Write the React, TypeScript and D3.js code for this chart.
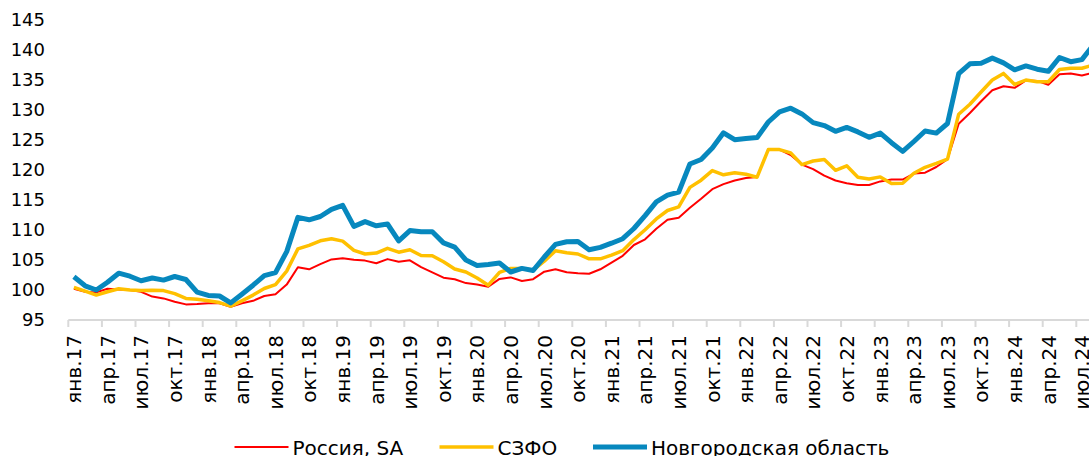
import * as d3 from 'd3';
import { useRef, useEffect } from 'react';

// Monthly index, янв.17 .. авг.24
const russia = [
  100.2, 99.7, 99.6, 100.2, 100.1, 100.0, 99.7, 98.9, 98.6, 98.05, 97.6, 97.65,
  97.8, 97.8, 97.2, 97.8, 98.2, 99.0, 99.3, 100.9, 103.8, 103.45, 104.3, 105.1,
  105.3, 105.05, 104.9, 104.45, 105.15, 104.7, 104.95, 103.8, 102.95, 102.05, 101.8, 101.15,
  100.9, 100.55, 101.85, 102.1, 101.5, 101.8, 103.05, 103.45, 102.95, 102.8, 102.7, 103.45,
  104.55, 105.7, 107.5, 108.45, 110.2, 111.7, 112.05, 113.7, 115.2, 116.8, 117.65, 118.25,
  118.65, 118.85, 123.4, 123.4, 122.5, 120.9, 120.15, 119.05, 118.25, 117.8, 117.5, 117.5,
  118.1, 118.4, 118.4, 119.4, 119.55, 120.5, 121.8, 127.7, 129.5, 131.45, 133.3, 133.95,
  133.7, 134.95, 134.85, 134.2, 135.95, 136.1, 135.75, 136.2,
];

const szfo = [
  100.45, 99.8, 99.15, 99.7, 100.2, 100.0, 99.9, 99.95, 99.9, 99.4, 98.6, 98.45,
  98.2, 97.9, 97.3, 98.2, 99.15, 100.25, 100.9, 103.15, 106.85, 107.45, 108.2, 108.55,
  108.15, 106.6, 106.0, 106.15, 106.95, 106.3, 106.7, 105.75, 105.7, 104.7, 103.5, 103.0,
  102.0, 100.8, 102.95, 103.6, 103.6, 103.3, 104.8, 106.55, 106.2, 106.0, 105.2, 105.2,
  105.8, 106.55, 108.4, 110.05, 111.85, 113.25, 113.85, 117.1, 118.3, 119.9, 119.2, 119.55,
  119.3, 118.8, 123.4, 123.4, 122.85, 120.9, 121.5, 121.75, 119.95, 120.7, 118.8, 118.5,
  118.85, 117.75, 117.8, 119.45, 120.45, 121.1, 121.8, 129.3, 130.95, 133.0, 135.0, 136.1,
  134.25, 135.0, 134.7, 134.7, 136.75, 136.95, 136.95, 137.5,
];

const novgorod = [
  102.2, 100.7, 100.0, 101.3, 102.8, 102.3, 101.55, 102.0, 101.65, 102.25, 101.75, 99.65,
  99.1, 99.0, 97.85, 99.3, 100.8, 102.4, 102.9, 106.4, 112.1, 111.7, 112.25, 113.45,
  114.1, 110.6, 111.4, 110.7, 111.0, 108.2, 109.9, 109.7, 109.7, 107.85, 107.15, 105.0,
  104.1, 104.25, 104.5, 103.0, 103.6, 103.25, 105.5, 107.6, 108.05, 108.1, 106.7, 107.1,
  107.8, 108.55, 110.25, 112.4, 114.7, 115.8, 116.3, 121.0, 121.75, 123.65, 126.2, 125.05,
  125.25, 125.4, 128.0, 129.7, 130.3, 129.35, 127.9, 127.4, 126.45, 127.1, 126.35, 125.45,
  126.15, 124.55, 123.1, 124.75, 126.5, 126.15, 127.75, 136.05, 137.7, 137.8, 138.65, 137.85,
  136.7, 137.35, 136.8, 136.45, 138.75, 138.05, 138.4, 140.8,
];

// one label every third month
const xTickLabels = [
  'янв.17', 'апр.17', 'июл.17', 'окт.17', 'янв.18', 'апр.18', 'июл.18', 'окт.18',
  'янв.19', 'апр.19', 'июл.19', 'окт.19', 'янв.20', 'апр.20', 'июл.20', 'окт.20',
  'янв.21', 'апр.21', 'июл.21', 'окт.21', 'янв.22', 'апр.22', 'июл.22', 'окт.22',
  'янв.23', 'апр.23', 'июл.23', 'окт.23', 'янв.24', 'апр.24', 'июл.24',
];

const yTicks = [95, 100, 105, 110, 115, 120, 125, 130, 135, 140, 145];

const seriesNames = ['Россия, SA', 'СЗФО', 'Новгородская область'];
const seriesColors = ['#ff0000', '#ffc000', '#0788be'];
const seriesWidths = [2, 3.5, 5];

export default function App() {
  const svgRef = useRef<SVGSVGElement>(null);
  const width = 1089;
  const height = 456;

  useEffect(() => {
    const svg = d3.select(svgRef.current);
    svg.selectAll('*').remove();

    const font = 'DejaVu Sans, Verdana, sans-serif';
    const n = russia.length;
    const left = 68.3;
    const step = 11.2;

    const x = d3.scaleBand<number>()
      .domain(d3.range(n))
      .range([left, left + n * step])
      .padding(0);

    const y = d3.scaleLinear().domain([95, 145]).range([320, 20]);

    // y labels
    svg.append('g')
      .selectAll('text')
      .data(yTicks)
      .enter()
      .append('text')
      .attr('x', 45)
      .attr('y', d => y(d))
      .attr('dy', '0.36em')
      .attr('text-anchor', 'end')
      .attr('font-family', font)
      .attr('font-size', 18)
      .attr('fill', '#000')
      .text(d => d);

    // x axis line and ticks
    const axis = svg.append('g');
    axis.append('line')
      .attr('x1', left).attr('x2', width)
      .attr('y1', 320).attr('y2', 320)
      .attr('stroke', '#d9d9d9')
      .attr('stroke-width', 2);

    const tickIdx = xTickLabels.map((_, k) => k * 3);
    axis.selectAll('line.tick')
      .data(tickIdx)
      .enter()
      .append('line')
      .attr('class', 'tick')
      .attr('x1', d => x(d)!).attr('x2', d => x(d)!)
      .attr('y1', 320).attr('y2', 327)
      .attr('stroke', '#d9d9d9')
      .attr('stroke-width', 2);

    axis.selectAll('text')
      .data(xTickLabels)
      .enter()
      .append('text')
      .attr('transform', (_, k) => `translate(${x(k * 3)! + x.bandwidth() / 2},335) rotate(-90)`)
      .attr('dy', '0.36em')
      .attr('text-anchor', 'end')
      .attr('font-family', font)
      .attr('font-size', 20)
      .attr('fill', '#000')
      .text(d => d);

    // lines
    const line = d3.line<number>()
      .x((_, i) => x(i)! + x.bandwidth() / 2)
      .y(d => y(d));

    [russia, szfo, novgorod].forEach((s, k) => {
      svg.append('path')
        .datum(s)
        .attr('d', line)
        .attr('fill', 'none')
        .attr('stroke', seriesColors[k])
        .attr('stroke-width', seriesWidths[k])
        .attr('stroke-linejoin', 'round');
    });

    // legend
    const legendX = [234.5, 439.5, 593];
    const legend = svg.append('g');
    seriesNames.forEach((name, k) => {
      legend.append('line')
        .attr('x1', legendX[k]).attr('x2', legendX[k] + 54)
        .attr('y1', 447).attr('y2', 447)
        .attr('stroke', seriesColors[k])
        .attr('stroke-width', seriesWidths[k]);
      legend.append('text')
        .attr('x', legendX[k] + 58)
        .attr('y', 455)
        .attr('font-family', font)
        .attr('font-size', 20)
        .attr('fill', '#000')
        .text(name);
    });
  }, []);

  return (
    <svg
      ref={svgRef}
      width={width}
      height={height}
      style={{ position: 'absolute', left: 0, top: 0, background: '#fff' }}
    />
  );
}
